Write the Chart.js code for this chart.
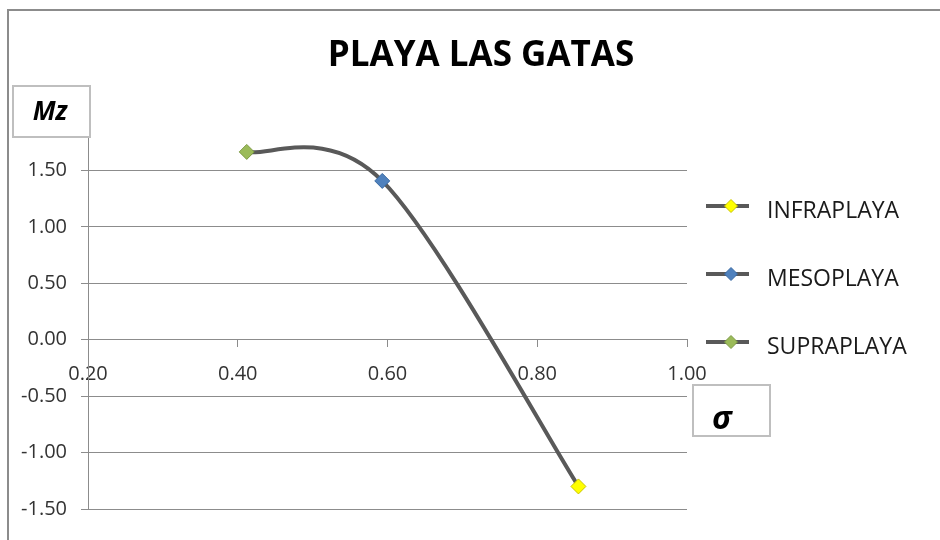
<!DOCTYPE html>
<html>
<head>
<meta charset="utf-8">
<script src="https://cdn.jsdelivr.net/npm/chart.js@4.4.1/dist/chart.umd.min.js"></script>
<style>
  html, body { margin: 0; padding: 0; background: #fff; }
  #wrap { width: 940px; height: 540px; position: relative; }
</style>
</head>
<body>
<div id="wrap"><canvas id="chart"></canvas></div>
<script>
// beach zones, sorted by sigma
const zoneNames = ['SUPRAPLAYA', 'MESOPLAYA', 'INFRAPLAYA'];
const sigmaValues = [0.412, 0.593, 0.855];
const mzValues = [1.664, 1.407, -1.30];
const zoneColors = ['#9bbb59', '#4f81bd', '#ffff00'];
const zoneBorders = ['#7d9a45', '#3a6aa3', '#c9c400'];
const legendOrder = ['INFRAPLAYA', 'MESOPLAYA', 'SUPRAPLAYA'];
const xRange = [0.2, 1.0];
const yRange = [-1.5, 2.0];

const FONT = '"Open Sans", "Liberation Sans", sans-serif';
const LINE_COLOR = '#595959';
const GRID_COLOR = '#8c8c8c';

function diamond(ctx, x, y, r, fill, stroke) {
  ctx.beginPath();
  ctx.moveTo(x, y - r);
  ctx.lineTo(x + r, y);
  ctx.lineTo(x, y + r);
  ctx.lineTo(x - r, y);
  ctx.closePath();
  ctx.fillStyle = fill;
  ctx.fill();
  ctx.lineWidth = 1;
  ctx.strokeStyle = stroke;
  ctx.stroke();
}

function labelBox(ctx, x, y, w, h, text, tx, ty, font) {
  ctx.fillStyle = '#fff';
  ctx.fillRect(x, y, w, h);
  ctx.strokeStyle = '#bfbfbf';
  ctx.lineWidth = 2;
  ctx.strokeRect(x, y, w, h);
  ctx.fillStyle = '#000';
  ctx.font = font;
  ctx.textAlign = 'center';
  ctx.textBaseline = 'middle';
  ctx.fillText(text, tx, ty);
}

// Excel-like smoothing: Catmull-Rom handles of 1/6 instead of Chart.js' weighted spline
const excelSmooth = {
  id: 'excelSmooth',
  beforeDatasetsDraw(chart) {
    chart.getSortedVisibleDatasetMetas().forEach(meta => {
      const line = meta.dataset;
      if (!line) return;
      line.updateControlPoints(chart.chartArea, 'x');
      const pts = line.points;
      const n = pts.length;
      for (let i = 0; i < n; i++) {
        const prev = pts[Math.max(i - 1, 0)];
        const next = pts[Math.min(i + 1, n - 1)];
        const dx = (next.x - prev.x) / 6;
        const dy = (next.y - prev.y) / 6;
        pts[i].cp1x = pts[i].x - dx;
        pts[i].cp1y = pts[i].y - dy;
        pts[i].cp2x = pts[i].x + dx;
        pts[i].cp2y = pts[i].y + dy;
      }
    });
  }
};

const decor = {
  id: 'decor',
  beforeDraw(chart) {
    const ctx = chart.ctx;
    ctx.save();
    ctx.strokeStyle = GRID_COLOR;
    ctx.lineWidth = 2;
    ctx.beginPath();
    ctx.moveTo(940, 10);
    ctx.lineTo(8, 10);
    ctx.lineTo(8, 540);
    ctx.stroke();
    ctx.restore();
  },
  afterDraw(chart) {
    const ctx = chart.ctx;
    ctx.save();
    ctx.fillStyle = '#000';
    ctx.font = 'bold 35px ' + FONT;
    ctx.textAlign = 'center';
    ctx.textBaseline = 'middle';
    ctx.fillText('PLAYA LAS GATAS', 481, 56);

    labelBox(ctx, 13, 86, 77, 51, 'Mz', 50, 113, 'italic bold 26px ' + FONT);
    labelBox(ctx, 693, 385, 77, 51, 'σ', 722, 420, 'italic bold 32px ' + FONT);

    legendOrder.forEach((name, row) => {
      const i = zoneNames.indexOf(name);
      const y = 206 + row * 68;
      ctx.strokeStyle = LINE_COLOR;
      ctx.lineWidth = 4;
      ctx.beginPath();
      ctx.moveTo(706, y);
      ctx.lineTo(749, y);
      ctx.stroke();
      diamond(ctx, 731, y, 6.5, zoneColors[i], zoneBorders[i]);
      ctx.fillStyle = '#1a1a1a';
      ctx.font = '23px ' + FONT;
      ctx.textAlign = 'left';
      ctx.textBaseline = 'middle';
      ctx.fillText(name, 767, y + 5);
    });
    ctx.restore();
  }
};

new Chart(document.getElementById('chart'), {
  type: 'scatter',
  data: {
    datasets: [{
      label: 'Mz',
      data: sigmaValues.map((s, i) => ({ x: s, y: mzValues[i] })),
      showLine: true,
      tension: 0.4,
      borderColor: LINE_COLOR,
      borderWidth: 4,
      pointStyle: 'rectRot',
      pointRadius: 7.5,
      pointHoverRadius: 7.5,
      pointBackgroundColor: zoneColors,
      pointBorderColor: zoneBorders,
      pointBorderWidth: 1
    }]
  },
  options: {
    responsive: true,
    maintainAspectRatio: false,
    animation: false,
    layout: { padding: { left: 0, top: 114, right: 253, bottom: 31 } },
    plugins: {
      legend: { display: false },
      title: { display: false },
      tooltip: { enabled: false }
    },
    scales: {
      x: {
        type: 'linear',
        position: { y: 0 },
        min: xRange[0],
        max: xRange[1],
        ticks: {
          stepSize: 0.2,
          padding: 16,
          color: '#333',
          font: { family: FONT, size: 20 },
          callback: v => v.toFixed(2)
        },
        grid: { drawOnChartArea: false, drawTicks: true, tickLength: 7, color: GRID_COLOR },
        border: { display: true, color: GRID_COLOR }
      },
      y: {
        type: 'linear',
        min: yRange[0],
        max: yRange[1],
        afterFit: s => { s.width = 88; },
        ticks: {
          stepSize: 0.5,
          padding: 14,
          color: '#333',
          font: { family: FONT, size: 20 },
          callback: v => v.toFixed(2)
        },
        grid: {
          color: c => (c.tick && c.tick.value >= yRange[1]) ? 'rgba(0,0,0,0)' : GRID_COLOR,
          tickLength: 7
        },
        border: { display: true, color: GRID_COLOR }
      }
    }
  },
  plugins: [excelSmooth, decor]
});
</script>
</body>
</html>
